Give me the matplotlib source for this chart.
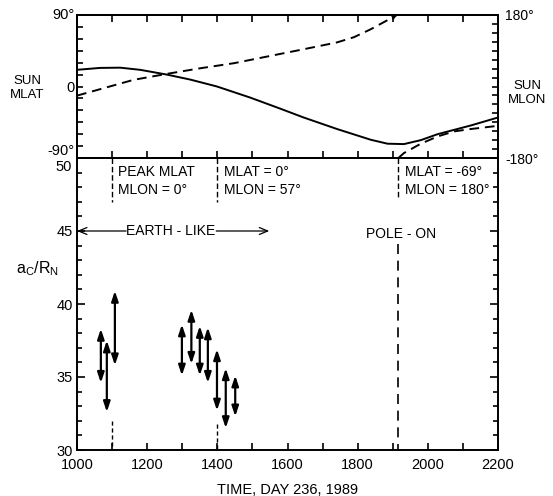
import matplotlib
matplotlib.use('Agg')
import matplotlib.pyplot as plt
from matplotlib.ticker import MultipleLocator

plt.rcParams['font.family'] = ['Liberation Sans', 'DejaVu Sans']

# ---------------- data ----------------
mlat_days = [1000, 1066, 1123, 1180, 1256, 1323, 1399, 1494, 1580, 1646, 1741,
             1837, 1885, 1932, 1980, 2028, 2123, 2200]
mlat_vals = [21, 23.4, 23.7, 21, 15, 8.7, 0, -14, -28, -39, -53.5,
             -67, -72, -72.5, -67.5, -60, -49, -39]

mlon_days_a = [1000, 1066, 1161, 1256, 1352, 1447, 1551, 1646, 1741, 1789, 1837, 1885, 1912]
mlon_vals_a = [-23, -6.7, 16.7, 31.8, 46, 58.6, 77, 93.8, 111, 124, 144, 167, 180]
mlon_days_b = [1916, 1932, 1980, 2028, 2075, 2123, 2200]
mlon_vals_b = [-180, -167.5, -144, -125.7, -113, -107, -99]

bar_days = [1068, 1085, 1108, 1299, 1326, 1350, 1373, 1399, 1424, 1451]
bar_low = [34.6, 32.6, 35.8, 35.1, 35.9, 35.1, 34.6, 32.7, 31.5, 32.3]
bar_high = [38.3, 37.5, 40.9, 38.6, 39.6, 38.5, 38.4, 36.9, 35.6, 35.1]

event_days = [1100, 1400, 1916]
event_text = ["PEAK MLAT\nMLON = 0°", "MLAT = 0°\nMLON = 57°", "MLAT = -69°\nMLON = 180°"]

x_ticks = [1000, 1200, 1400, 1600, 1800, 2000, 2200]
y_ticks = [30, 35, 40, 45]

# ---------------- figure ----------------
W, H = 553, 496
fig = plt.figure(figsize=(W / 100, H / 100), dpi=100)
L = 77 / W
Wd = (498 - 77) / W
ax = fig.add_axes([L, 1 - 450 / H, Wd, (450 - 158) / H])
axt = fig.add_axes([L, 1 - 158 / H, Wd, (158 - 15) / H])
axr = axt.twinx()

for a in (ax, axt, axr):
    for s in a.spines.values():
        s.set_linewidth(1.4)

# ---- top panel ----
axt.plot(mlat_days, mlat_vals, color='black', lw=1.4)
axr.plot(mlon_days_a, mlon_vals_a, color='black', lw=1.4, dashes=(5, 3))
axr.plot(mlon_days_b, mlon_vals_b, color='black', lw=1.4, dashes=(5, 3))
axr.annotate('', xy=(mlon_days_a[-1], mlon_vals_a[-1]), xytext=(mlon_days_a[-2], mlon_vals_a[-2]),
             arrowprops=dict(arrowstyle='-|>,head_length=0.4,head_width=0.2', color='black', lw=0,
                             shrinkA=0, shrinkB=0, mutation_scale=10))
axt.set_xlim(1000, 2200)
axt.set_ylim(-90, 90)
axr.set_ylim(-180, 180)
axt.set_yticks([-90, 0, 90])
axt.set_yticklabels(['-90°', '0', '90°'], fontsize=10.5)
axt.yaxis.set_minor_locator(MultipleLocator(15))
axr.set_yticks([-180, 180])
axr.set_yticklabels(['-180°', '180°'], fontsize=10)
axr.yaxis.set_minor_locator(MultipleLocator(22.5))
axt.xaxis.set_major_locator(MultipleLocator(100))
axt.tick_params(axis='x', which='both', direction='in', top=True, bottom=True,
                labelbottom=False, length=5, width=1.2)
axt.tick_params(axis='y', which='both', direction='in', length=4, width=1.2, pad=2)
axr.tick_params(axis='y', which='both', direction='in', length=4, width=1.2, pad=5)
tl = axt.get_yticklabels()
tl[0].set_va('bottom')
tl[2].set_va('center')
fig.text(27 / W, 1 - 88 / H, 'SUN\nMLAT', ha='center', va='center', fontsize=9.5, linespacing=1.15)
fig.text(527 / W, 1 - 93 / H, 'SUN\nMLON', ha='center', va='center', fontsize=9.5, linespacing=1.15)

# ---- bottom panel ----
ax.set_xlim(1000, 2200)
ax.set_ylim(30, 50)
ax.set_xticks(x_ticks)
ax.set_xticklabels([str(v) for v in x_ticks], fontsize=10.5)
ax.xaxis.set_minor_locator(MultipleLocator(100))
ax.set_yticks(y_ticks)
ax.set_yticklabels([str(v) for v in y_ticks], fontsize=10.5)
ax.yaxis.set_minor_locator(MultipleLocator(1))
ax.tick_params(axis='x', which='both', direction='in', top=False, length=5, width=1.2, pad=6)
ax.tick_params(axis='y', which='major', direction='in', left=True, right=True, length=6, width=1.2, pad=3)
ax.tick_params(axis='y', which='minor', direction='in', left=True, right=True, length=3.5, width=1.2)
ax.text(-0.012, 50 - 0.15, '50', transform=ax.get_yaxis_transform(), ha='right', va='top', fontsize=10.5)
ax.set_xlabel('TIME, DAY 236, 1989', fontsize=10.5, labelpad=8)
ax.text(-0.093, 0.62, r'$\mathregular{a_C/R_N}$', transform=ax.transAxes, ha='center', va='center', fontsize=11.5)

# error bars
for d, lo, hi in zip(bar_days, bar_low, bar_high):
    ax.annotate('', xy=(d, lo), xytext=(d, hi),
                arrowprops=dict(arrowstyle='<|-|>,head_length=0.6,head_width=0.2', color='black',
                                lw=1.6, shrinkA=0, shrinkB=0, mutation_scale=10))

# event lines
ax.plot([event_days[0]] * 2, [50, 47.0], color='black', lw=1, dashes=(4, 2))
ax.plot([event_days[1]] * 2, [50, 47.0], color='black', lw=1, dashes=(4, 2))
ax.plot([event_days[2]] * 2, [50, 47.2], color='black', lw=1, dashes=(4, 2))
ax.plot([event_days[0]] * 2, [32.0, 30], color='black', lw=1, dashes=(3, 2))
ax.plot([event_days[1]] * 2, [31.8, 30], color='black', lw=1, dashes=(3, 2))
ax.plot([event_days[2]] * 2, [44.1, 30], color='black', lw=1.2, dashes=(6, 4))

for d, t in zip(event_days, event_text):
    ax.text(d + 18, 49.55, t, ha='left', va='top', fontsize=10, linespacing=1.4)

# Earth-like arrow
ax.text(1268, 45, 'EARTH - LIKE', ha='center', va='center', fontsize=10)
ax.annotate('', xy=(1000, 45), xytext=(1140, 45),
            arrowprops=dict(arrowstyle='->,head_length=0.6,head_width=0.25', color='black', lw=0.9,
                            shrinkA=0, shrinkB=0, mutation_scale=10))
ax.annotate('', xy=(1548, 45), xytext=(1397, 45),
            arrowprops=dict(arrowstyle='->,head_length=0.6,head_width=0.25', color='black', lw=0.9,
                            shrinkA=0, shrinkB=0, mutation_scale=10))
ax.text(1923, 44.8, 'POLE - ON', ha='center', va='center', fontsize=10)

fig.savefig('out.png', dpi=100)
